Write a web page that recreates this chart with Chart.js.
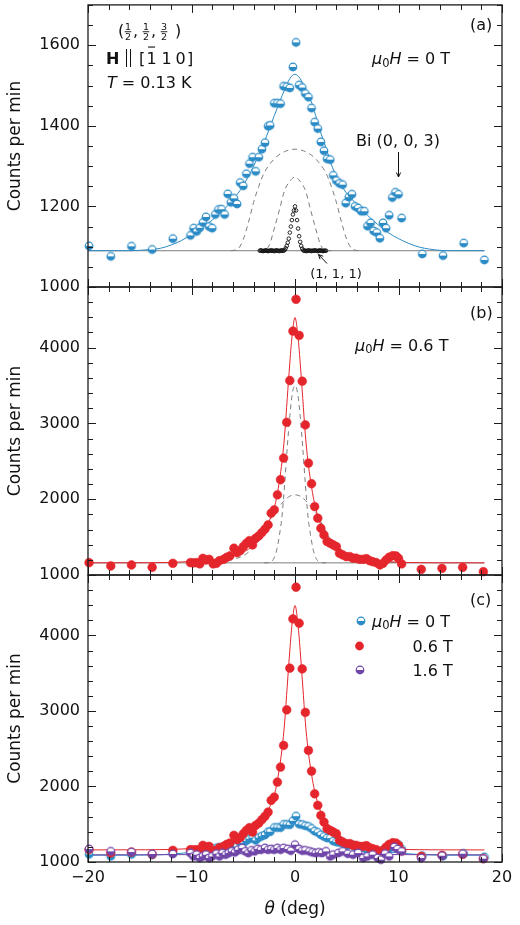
<!DOCTYPE html>
<html>
<head>
<meta charset="utf-8">
<script src="https://cdn.jsdelivr.net/npm/chart.js@4.4.1/dist/chart.umd.min.js"></script>
<style>
  html, body { margin: 0; padding: 0; background: #fff; }
  #fig { position: relative; width: 520px; height: 925px; overflow: hidden; }
  #fig canvas { position: absolute; left: 0; }
</style>
</head>
<body>
<div id="fig">
  <canvas id="panelA" width="520" height="300" style="top:0px"></canvas>
  <canvas id="panelB" width="520" height="305" style="top:280px"></canvas>
  <canvas id="panelC" width="520" height="357" style="top:568px"></canvas>
</div>
<script>
// ---- data (theta in deg, counts per min) ----
// mu0H = 0 T, panels (a) and (c)
const THETA_0T = [-19.9,-17.8,-15.8,-13.8,-11.8,-10.1,-9.8,-9.5,-9.2,-8.9,-8.6,-8.3,-8.0,-7.7,-7.4,-7.1,-6.8,-6.5,-6.2,-5.9,-5.6,-5.3,-5.0,-4.7,-4.4,-4.1,-3.8,-3.5,-3.2,-2.9,-2.6,-2.4,-2.0,-1.7,-1.4,-1.1,-0.8,-0.5,-0.2,0.1,0.4,0.7,1.0,1.3,1.6,1.9,2.2,2.5,2.8,3.1,3.4,3.7,4.0,4.3,4.6,4.9,5.2,5.5,5.8,6.1,6.4,6.7,7.0,7.3,7.6,7.9,8.2,8.5,8.8,9.1,9.4,9.7,10.0,10.3,12.3,14.3,16.3,18.3];
const COUNTS_0T = [1102,1076,1101,1093,1120,1128,1146,1138,1147,1160,1174,1150,1146,1180,1192,1193,1180,1231,1210,1220,1206,1259,1251,1281,1306,1322,1287,1322,1342,1358,1399,1401,1456,1456,1455,1498,1497,1494,1546,1607,1501,1495,1480,1471,1444,1409,1393,1360,1338,1318,1316,1277,1264,1257,1254,1208,1223,1230,1200,1196,1188,1188,1151,1159,1139,1135,1121,1159,1146,1178,1222,1235,1230,1171,1082,1078,1109,1067];

// mu0H = 0.6 T, panels (b) and (c)
const THETA_06T = [-19.9,-17.8,-15.8,-13.8,-11.8,-10.1,-9.8,-9.5,-9.2,-8.9,-8.6,-8.3,-7.9,-7.6,-7.3,-6.9,-6.6,-6.3,-5.9,-5.6,-5.3,-5.0,-4.7,-4.4,-4.1,-3.8,-3.5,-3.2,-2.9,-2.6,-2.3,-2.0,-1.7,-1.4,-1.1,-0.8,-0.5,-0.2,0.1,0.4,0.7,1.0,1.3,1.6,1.9,2.2,2.5,2.8,3.1,3.4,3.7,4.0,4.3,4.6,4.95,5.3,5.6,5.9,6.25,6.6,6.9,7.2,7.5,7.85,8.2,8.5,8.8,9.1,9.45,9.75,10.0,10.3,12.2,14.2,16.2,18.2];
const COUNTS_06T = [1163,1119,1132,1102,1154,1163,1160,1163,1146,1220,1198,1207,1146,1154,1189,1207,1233,1251,1353,1295,1321,1374,1419,1454,1397,1485,1516,1560,1605,1661,1816,1860,2058,2257,2543,3015,3566,4218,4638,4161,3557,2980,2477,2204,1903,1750,1617,1529,1441,1419,1397,1374,1287,1265,1243,1243,1221,1221,1207,1207,1216,1189,1176,1163,1132,1154,1198,1234,1255,1251,1221,1146,1075,1088,1101,1044];

// mu0H = 1.6 T, panel (c)
const THETA_16T = [-19.9,-17.8,-15.8,-13.8,-11.8,-10.1,-9.8,-9.5,-9.2,-8.9,-8.6,-8.3,-8.0,-7.6,-7.3,-7.0,-6.7,-6.4,-6.1,-5.8,-5.5,-5.1,-4.8,-4.5,-4.2,-3.9,-3.6,-3.3,-2.9,-2.6,-2.3,-2.0,-1.7,-1.4,-1.1,-0.7,-0.4,0.0,0.4,0.7,1.0,1.4,1.7,2.0,2.3,2.6,3.0,3.4,3.7,4.2,4.6,5.1,5.6,6.1,6.6,7.0,7.5,8.0,8.3,8.7,9.1,9.6,9.9,10.3,12.2,14.2,16.2,18.2];
const COUNTS_16T = [1172,1141,1132,1106,1106,1119,1075,1097,1053,1075,1097,1053,1075,1110,1075,1119,1097,1119,1141,1128,1163,1185,1141,1119,1154,1141,1172,1163,1185,1163,1172,1163,1185,1163,1185,1172,1150,1229,1172,1150,1154,1141,1128,1119,1128,1119,1141,1075,1097,1119,1141,1110,1097,1119,1053,1075,1097,1053,1031,1110,1075,1199,1172,1141,1053,1083,1110,1044];

// (1, 1, 1) nuclear reflection, panel (a)
const THETA_111 = [-3.4,-3.3,-3.2,-3.1,-3.0,-2.9,-2.8,-2.7,-2.6,-2.5,-2.4,-2.3,-2.2,-2.1,-2.0,-1.9,-1.8,-1.7,-1.6,-1.5,-1.4,-1.3,-1.2,-1.1,-1.0,-0.9,-0.8,-0.7,-0.6,-0.5,-0.4,-0.3,-0.2,-0.1,0.0,0.1,0.2,0.3,0.4,0.5,0.6,0.7,0.8,0.9,1.0,1.1,1.2,1.3,1.4,1.5,1.6,1.7,1.8,1.9,2.0,2.1,2.2,2.3,2.4,2.5,2.6,2.7,2.8,2.9,3.0];
const COUNTS_111 = [1090,1091,1090,1089,1090,1090,1091,1090,1089,1090,1090,1091,1090,1090,1089,1090,1091,1090,1090,1089,1090,1091,1090,1090,1092,1096,1102,1110,1120,1135,1150,1166,1180,1190,1200,1190,1166,1145,1126,1112,1102,1095,1091,1090,1090,1089,1090,1091,1090,1090,1089,1090,1090,1091,1090,1090,1089,1090,1091,1090,1090,1089,1090,1090,1090];

// fitted curves
const FIT_0T_THETA = [-20,-16,-14,-13,-12,-11,-10,-9,-8,-7,-6,-5,-4,-3,-2,-1,-0.5,0,0.5,1,1.5,2,2.5,3,3.5,4,5,6,7,8,9,10,11,12,13,14,15,18.3];
const FIT_0T = [1090,1090,1093,1096,1104,1115,1130,1147,1166,1189,1216,1252,1300,1358,1425,1490,1517,1528,1517,1490,1465,1425,1382,1345,1305,1275,1232,1205,1178,1155,1135,1120,1108,1099,1094,1091,1090,1090];
const FIT_06T_THETA = [-20,-14,-12,-10,-9,-8,-7,-6,-5,-4.5,-4,-3.5,-3,-2.5,-2,-1.75,-1.5,-1.25,-1,-0.75,-0.5,-0.25,0,0.25,0.5,0.75,1,1.25,1.5,1.75,2,2.5,3,3.5,4,4.5,5,6,7,8,9,10,12,14,18.3];
const FIT_06T = [1160,1162,1166,1178,1188,1202,1222,1250,1300,1340,1392,1460,1560,1710,1890,2040,2250,2500,2850,3330,3800,4200,4396,4200,3800,3330,2850,2500,2250,2040,1880,1660,1530,1445,1385,1330,1285,1235,1205,1188,1176,1168,1163,1161,1160];
const FIT_16T_THETA = [-20,-10,-6,-4,-2,-1,0,1,2,4,6,10,18.3];
const FIT_16T = [1095,1098,1105,1115,1130,1138,1142,1138,1130,1115,1105,1098,1095];

// fit components (dashed) and backgrounds
const COMP_A_BROAD_THETA = [-6.2,-5.5,-5,-4.5,-4,-3.5,-3,-2,-1,0,1,2,3,3.5,4,4.5,5,5.5,6.2];
const COMP_A_BROAD = [1090,1095,1118,1160,1210,1250,1282,1318,1336,1342,1336,1318,1282,1250,1210,1160,1118,1095,1090];
const COMP_A_NARROW_THETA = [-3.5,-3,-2.5,-2,-1.5,-1,-0.5,0,0.5,1,1.5,2,2.5,3,3.5];
const COMP_A_NARROW = [1090,1091,1103,1145,1192,1240,1262,1273,1262,1240,1192,1145,1103,1091,1090];
const COMP_B_BROAD_THETA = [-10,-9,-8,-7,-6,-5,-4.5,-4,-3.5,-3,-2.5,-2,-1.5,-1,-0.5,0,0.5,1,1.5,2,2.5,3,3.5,4,4.5,5,6,7,8,9,10];
const COMP_B_BROAD = [1165,1168,1172,1180,1205,1255,1300,1370,1450,1570,1700,1830,1910,1985,2040,2058,2040,1985,1910,1830,1700,1570,1450,1370,1300,1255,1205,1180,1172,1168,1165];
const COMP_B_NARROW_THETA = [-3,-2.6,-2.25,-2,-1.75,-1.5,-1.25,-1,-0.75,-0.5,-0.25,0,0.25,0.5,0.75,1,1.25,1.5,1.75,2,2.25,2.6,3];
const COMP_B_NARROW = [1160,1162,1180,1230,1340,1530,1780,2200,2680,3100,3400,3500,3400,3100,2680,2200,1780,1530,1340,1230,1180,1162,1160];
const BG_THETA = [-20, 18.3];
const BG_0T = [1090, 1090];
const BG_06T = [1160, 1160];

// axes
const X_TICK_LABELS = [-20, -10, 0, 10, 20];
const Y_LABELS_A = [1000, 1200, 1400, 1600];
const Y_LABELS_BC = [1000, 2000, 3000, 4000];

// ---- styling ----
const BLUE = '#2b8bc6', RED = '#e4262c', PURPLE = '#6f45a8', GREY = '#7d7d7d', INK = '#111';
const SANS = '"DejaVu Sans", "Liberation Sans", Arial, sans-serif';
const font = (px, style) => (style ? style + ' ' : '') + px + 'px ' + SANS;
Chart.defaults.font.family = SANS;
Chart.defaults.font.size = 16;
Chart.defaults.color = INK;

const pts = (xs, ys) => xs.map((x, i) => ({ x, y: ys[i] }));

// open circle with the lower half filled
function halfMarker(color, r) {
  const c = document.createElement('canvas');
  const s = Math.ceil(2 * r + 4);
  c.width = c.height = s;
  const g = c.getContext('2d');
  const m = s / 2;
  g.fillStyle = '#fff';
  g.beginPath(); g.arc(m, m, r, 0, 2 * Math.PI); g.fill();
  g.fillStyle = color;
  g.beginPath(); g.arc(m, m, r, 0, Math.PI); g.closePath(); g.fill();
  g.strokeStyle = color; g.lineWidth = 1.2;
  g.beginPath(); g.arc(m, m, r, 0, 2 * Math.PI); g.stroke();
  return c;
}
const MK_BLUE = halfMarker(BLUE, 3.8);
const MK_PURPLE = halfMarker(PURPLE, 3.8);

const marks = (xs, ys, extra) => Object.assign({ data: pts(xs, ys), showLine: false, clip: false, pointRadius: 4, borderWidth: 0 }, extra);
const curve = (xs, ys, color, dash) => ({
  data: pts(xs, ys), showLine: true, pointRadius: 0, borderColor: color, borderWidth: 1,
  borderDash: dash || [], cubicInterpolationMode: 'monotone', fill: false
});

function yAxis(min, max, step, labels) {
  return {
    type: 'linear', min, max,
    ticks: { stepSize: step, padding: 8, autoSkip: false, font: { size: 16 }, color: INK,
      callback: v => (labels.includes(v) ? String(v) : '') },
    grid: { display: false, drawTicks: false },
    border: { display: false },
    title: { display: true, text: 'Counts per min', font: { size: 17 }, color: INK, padding: { top: 5, bottom: 0 } },
    afterFit: s => { s.width = 88; s.paddingTop = 0; s.paddingBottom = 0; }
  };
}
function xAxis(showLabels) {
  if (!showLabels) return { type: 'linear', min: -20, max: 20, display: false };
  return {
    type: 'linear', min: -20, max: 20,
    ticks: { stepSize: 10, padding: 6, autoSkip: false, font: { size: 16 }, color: INK, maxRotation: 0,
      callback: v => (X_TICK_LABELS.includes(v) ? (v < 0 ? '\u2212' + Math.abs(v) : String(v)) : '') },
    grid: { display: false, drawTicks: false },
    border: { display: false },
    afterFit: s => { s.height = 63; s.paddingLeft = 0; s.paddingRight = 0; }
  };
}

// frame plus inward ticks on all four sides
function drawFrame(chart, yMajor) {
  const { ctx, chartArea: a, scales: { x, y } } = chart;
  ctx.save();
  ctx.strokeStyle = '#1c1c1c';
  ctx.lineWidth = 1;
  ctx.beginPath();
  for (let v = -20; v <= 20; v += 2) {
    const px = Math.round(x.getPixelForValue(v)) + 0.5;
    const len = v % 10 === 0 ? 8 : 5;
    ctx.moveTo(px, a.top); ctx.lineTo(px, a.top + len);
    ctx.moveTo(px, a.bottom); ctx.lineTo(px, a.bottom - len);
  }
  y.ticks.forEach(t => {
    const py = Math.round(y.getPixelForValue(t.value)) + 0.5;
    const len = t.value % yMajor === 0 ? 8 : 5;
    ctx.moveTo(a.left, py); ctx.lineTo(a.left + len, py);
    ctx.moveTo(a.right, py); ctx.lineTo(a.right - len, py);
  });
  ctx.stroke();
  ctx.lineWidth = 1.3;
  const top = Math.max(a.top, 0.7);
  ctx.strokeRect(a.left, top, a.right - a.left, a.bottom - top);
  ctx.restore();
}

function runs(ctx, x, y, parts, align) {
  let w = 0;
  parts.forEach(p => { ctx.font = p[1]; w += ctx.measureText(p[0]).width; });
  let cx = align === 'center' ? x - w / 2 : align === 'right' ? x - w : x;
  ctx.textAlign = 'left'; ctx.textBaseline = 'alphabetic';
  parts.forEach(p => { ctx.font = p[1]; ctx.fillText(p[0], cx, y + (p[2] || 0)); cx += ctx.measureText(p[0]).width; });
}
const muH = rest => [['\u03bc', font(16, 'italic')], ['0', font(11.5), 2.5], ['H', font(16, 'italic')], [rest, font(16)]];

function arrow(ctx, x1, y1, x2, y2, head) {
  const ang = Math.atan2(y2 - y1, x2 - x1);
  ctx.beginPath();
  ctx.moveTo(x1, y1); ctx.lineTo(x2, y2);
  ctx.moveTo(x2 - head * Math.cos(ang - 0.45), y2 - head * Math.sin(ang - 0.45));
  ctx.lineTo(x2, y2);
  ctx.lineTo(x2 - head * Math.cos(ang + 0.45), y2 - head * Math.sin(ang + 0.45));
  ctx.stroke();
}

function frac(ctx, cx, num, den) {
  ctx.font = font(9.5);
  ctx.textAlign = 'center';
  ctx.fillText(num, cx, 29.5);
  ctx.fillText(den, cx, 39.5);
  ctx.fillRect(cx - 3.3, 31.3, 6.6, 0.9);
  ctx.textAlign = 'left';
}

const baseOptions = (pad, x, y) => ({
  responsive: false, animation: false, events: [],
  layout: { padding: pad },
  plugins: { legend: { display: false }, tooltip: { enabled: false } },
  scales: { x, y }
});

// ---- panel (a) ----
new Chart(document.getElementById('panelA'), {
  type: 'scatter',
  data: { datasets: [
    marks(THETA_0T, COUNTS_0T, { pointStyle: MK_BLUE }),
    marks(THETA_111, COUNTS_111, { pointStyle: 'circle', pointRadius: 1.8, borderWidth: 0.9, borderColor: INK, backgroundColor: 'rgba(0,0,0,0)' }),
    curve(FIT_0T_THETA, FIT_0T, BLUE),
    curve(COMP_A_BROAD_THETA, COMP_A_BROAD, GREY, [5, 4]),
    curve(COMP_A_NARROW_THETA, COMP_A_NARROW, GREY, [5, 4]),
    curve(BG_THETA, BG_0T, GREY)
  ] },
  options: baseOptions({ left: 0, right: 18, top: 0, bottom: 13 }, xAxis(false), yAxis(1000, 1700, 50, Y_LABELS_A)),
  plugins: [{ id: 'decorA', afterDraw(chart) {
    drawFrame(chart, 200);
    const ctx = chart.ctx;
    ctx.save();
    ctx.fillStyle = INK; ctx.strokeStyle = INK;
    // (1/2, 1/2, 3/2)
    ctx.font = font(16); ctx.textBaseline = 'alphabetic';
    ctx.fillText('(', 118, 36);
    frac(ctx, 128, '1', '2');
    ctx.font = font(16); ctx.fillText(',', 133, 36);
    frac(ctx, 146, '1', '2');
    ctx.font = font(16); ctx.fillText(',', 151, 36);
    frac(ctx, 164, '3', '2');
    ctx.font = font(16); ctx.fillText(')', 175, 36);
    // H || [-1 1 0]
    ctx.font = font(16, 'bold'); ctx.fillText('H', 106, 63.5);
    ctx.lineWidth = 1;
    ctx.beginPath();
    ctx.moveTo(126.5, 49); ctx.lineTo(126.5, 67);
    ctx.moveTo(130.5, 49); ctx.lineTo(130.5, 67);
    ctx.stroke();
    ctx.font = font(16);
    ctx.fillText('[', 139, 63.5);
    ctx.fillText('1', 146.5, 63.5);
    const w1 = ctx.measureText('1').width;
    ctx.fillRect(146.5 + w1 / 2 - 3.5, 46.5, 7, 1.1);
    ctx.fillText('1', 161.5, 63.5);
    ctx.fillText('0', 175.5, 63.5);
    ctx.fillText(']', 187, 63.5);
    runs(ctx, 107, 87.5, [['T', font(16, 'italic')], [' = 0.13 K', font(16)]]);
    runs(ctx, 372, 64, muH(' = 0 T'));
    runs(ctx, 470, 30, [['(a)', font(16)]]);
    runs(ctx, 398, 145.5, [['Bi (0, 0, 3)', font(16)]], 'center');
    ctx.lineWidth = 1;
    arrow(ctx, 398.5, 152, 398.5, 177, 5);
    runs(ctx, 336, 277.5, [['(1, 1, 1)', font(13)]], 'center');
    arrow(ctx, 327, 263.5, 318.5, 254.5, 5);
    ctx.restore();
  } }]
});

// ---- panel (b) ----
new Chart(document.getElementById('panelB'), {
  type: 'scatter',
  data: { datasets: [
    marks(THETA_06T, COUNTS_06T, { pointStyle: 'circle', pointRadius: 4.4, backgroundColor: RED, borderColor: RED, borderWidth: 0.5 }),
    curve(FIT_06T_THETA, FIT_06T, RED),
    curve(COMP_B_NARROW_THETA, COMP_B_NARROW, GREY, [5, 4]),
    curve(COMP_B_BROAD_THETA, COMP_B_BROAD, GREY, [5, 4]),
    curve(BG_THETA, BG_06T, GREY)
  ] },
  options: baseOptions({ left: 0, right: 18, top: 7, bottom: 10 }, xAxis(false), yAxis(1000, 4800, 200, Y_LABELS_BC)),
  plugins: [{ id: 'decorB', afterDraw(chart) {
    drawFrame(chart, 1000);
    const ctx = chart.ctx;
    ctx.save();
    ctx.fillStyle = INK;
    runs(ctx, 470, 38, [['(b)', font(16)]]);
    runs(ctx, 355, 70.7, muH(' = 0.6 T'));
    ctx.restore();
  } }]
});

// ---- panel (c) ----
new Chart(document.getElementById('panelC'), {
  type: 'scatter',
  data: { datasets: [
    marks(THETA_16T, COUNTS_16T, { pointStyle: MK_PURPLE }),
    marks(THETA_06T, COUNTS_06T, { pointStyle: 'circle', pointRadius: 4.4, backgroundColor: RED, borderColor: RED, borderWidth: 0.5 }),
    marks(THETA_0T, COUNTS_0T, { pointStyle: MK_BLUE }),
    curve(FIT_16T_THETA, FIT_16T, PURPLE),
    curve(FIT_06T_THETA, FIT_06T, RED),
    curve(FIT_0T_THETA, FIT_0T, BLUE)
  ] },
  options: baseOptions({ left: 0, right: 18, top: 7, bottom: 0 }, xAxis(true), yAxis(1000, 4800, 200, Y_LABELS_BC)),
  plugins: [{ id: 'decorC', afterDraw(chart) {
    drawFrame(chart, 1000);
    const ctx = chart.ctx;
    ctx.save();
    ctx.fillStyle = INK;
    runs(ctx, 470, 37, [['(c)', font(16)]]);
    // legend
    ctx.drawImage(MK_BLUE, 361 - MK_BLUE.width / 2, 53 - MK_BLUE.height / 2);
    runs(ctx, 372, 58.5, muH(' = 0 T'));
    ctx.fillStyle = RED;
    ctx.beginPath(); ctx.arc(359.5, 78, 4.4, 0, 2 * Math.PI); ctx.fill();
    ctx.fillStyle = INK;
    runs(ctx, 452.7, 83.5, [['0.6 T', font(16)]], 'right');
    ctx.drawImage(MK_PURPLE, 360 - MK_PURPLE.width / 2, 102 - MK_PURPLE.height / 2);
    runs(ctx, 452.7, 108, [['1.6 T', font(16)]], 'right');
    // x-axis title
    runs(ctx, 295, 345.5, [['\u03b8', font(17, 'italic')], [' (deg)', font(17)]], 'center');
    ctx.restore();
  } }]
});
</script>
</body>
</html>
